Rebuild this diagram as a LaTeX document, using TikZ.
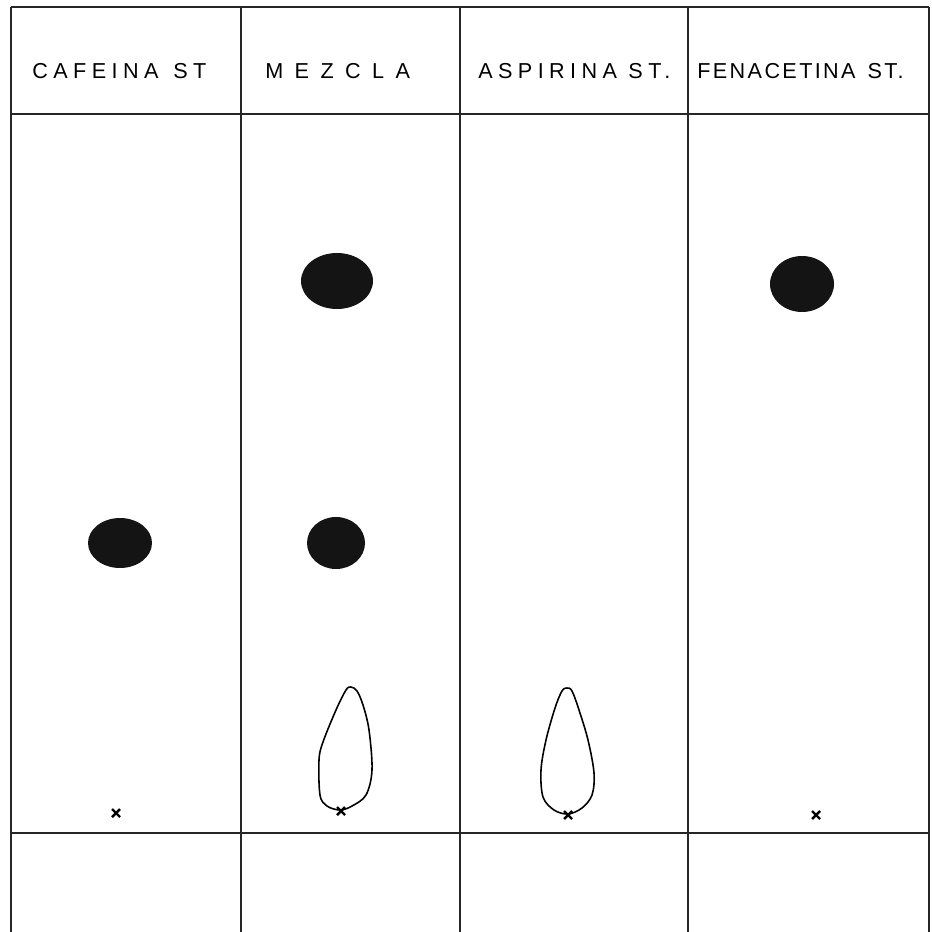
\documentclass[tikz,border=0pt]{standalone}
\usepackage{fontspec}
\newfontfamily\platefont[LetterSpace=25]{Liberation Sans}
\usepackage{tikz}
\usetikzlibrary{positioning}

\begin{document}
\begin{tikzpicture}[x=0.02cm, y=-0.02cm,
    gridline/.style={line width=0.9pt, color=black!85},
    lanelabel/.style={anchor=west, inner sep=0pt, font=\platefont\fontsize{12.3}{14}\selectfont},
    spot/.style={fill=black!92, draw=none},
    trail/.style={draw, line width=0.9pt},
    origin/.style={line width=1.4pt}
]
\useasboundingbox (0,0) rectangle (931,932);

% plate grid
\draw[gridline] (11,7) -- (929,7);
\draw[gridline] (11,114) -- (929,114);
\draw[gridline] (11,833) -- (929,833);
\foreach \xl in {11,241,460,688,929}
  \draw[gridline] (\xl,7) -- (\xl,932);

% lane headers
\node[lanelabel] (cafeina) at (32,71) {CAFEINA\, ST};
\node[lanelabel] (mezcla) at (265,71) {M E Z C L A};
\node[lanelabel] (aspirina) at (478,71) {ASPIRINA ST.};
\node[lanelabel] (fenacetina) at (697,71) {\addfontfeature{LetterSpace=11}FENACETINA\, ST.};

% spots
\fill[spot] (120,543) ellipse [x radius=32, y radius=25];
\fill[spot] (337,281) ellipse [x radius=36, y radius=28];
\fill[spot] (336,543) ellipse [x radius=29, y radius=26];
\fill[spot] (802,284) ellipse [x radius=32, y radius=28];

% trailing spots
\draw[trail] plot[smooth cycle, tension=0.55] coordinates {(346,690) (351,687) (357,691) (363,705) (369,730) (372,770) (366,795) (352,806) (340,810) (327,806) (320,795) (319,760) (323,742) (336,710)};
\draw[trail] plot[smooth cycle, tension=0.55] coordinates {(562,691) (567,688) (572,691) (579,710) (588,740) (594,773) (592,795) (582,808) (568,814) (554,810) (543,797) (541,770) (546,740) (555,708)};

% application points
\foreach \ox/\oy in {116/813, 341/811, 568/815, 816/815}
  \draw[origin] (\ox-4,\oy-4) -- (\ox+4,\oy+4) (\ox-4,\oy+4) -- (\ox+4,\oy-4);
\end{tikzpicture}
\end{document}
